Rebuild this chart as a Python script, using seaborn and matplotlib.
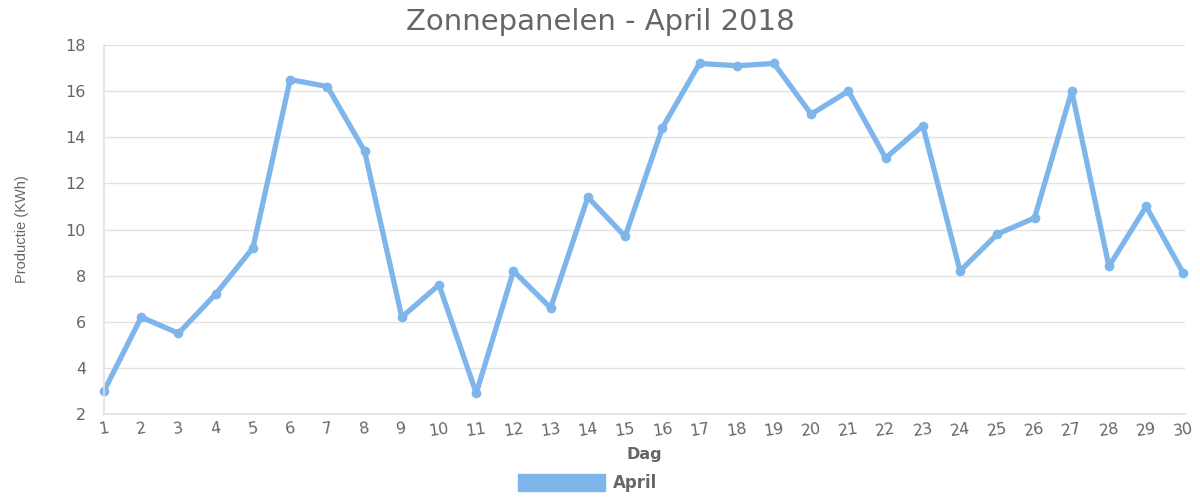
import matplotlib
matplotlib.use("Agg")
import matplotlib.pyplot as plt
from matplotlib.patches import Patch
import pandas as pd
import seaborn as sns

# opbrengst per dag, april 2018
dagen = list(range(1, 31))
productie = [3.0, 6.2, 5.5, 7.2, 9.2, 16.5, 16.2, 13.4, 6.2, 7.6,
             2.9, 8.2, 6.6, 11.4, 9.7, 14.4, 17.2, 17.1, 17.2, 15.0,
             16.0, 13.1, 14.5, 8.2, 9.8, 10.5, 16.0, 8.4, 11.0, 8.1]
y_ticks = [2, 4, 6, 8, 10, 12, 14, 16, 18]

df = pd.DataFrame({"Dag": dagen, "Productie": productie})

sns.set_style("whitegrid")
plt.rcParams["font.family"] = ["DejaVu Sans"]

blauw = "#7eb6ec"
grijs = "#666666"
lijn = "#e2e2e2"

fig = plt.figure(figsize=(12, 5), dpi=100)
ax = fig.add_axes([0.0867, 0.172, 0.901, 0.738])

sns.lineplot(data=df, x="Dag", y="Productie", ax=ax, color=blauw,
             linewidth=3.8, marker="o", markersize=7, markeredgewidth=0,
             clip_on=False)

ax.set_xlim(1, 30.05)
ax.set_ylim(2, 18)
ax.set_xticks(dagen)
ax.set_xticklabels([str(d) for d in dagen], rotation=8, fontsize=11.5, color=grijs)
ax.set_yticks(y_ticks)
ax.set_yticklabels([str(t) for t in y_ticks], fontsize=11.5, color=grijs)

ax.grid(axis="x", visible=False)
ax.grid(axis="y", color=lijn, linewidth=1)
for kant in ["top", "right"]:
    ax.spines[kant].set_visible(False)
for kant in ["left", "bottom"]:
    ax.spines[kant].set_color(lijn)
    ax.spines[kant].set_linewidth(1.2)
ax.tick_params(axis="y", length=7, color=lijn, pad=6)
ax.tick_params(axis="x", length=0, pad=5)

ax.set_xlabel("Dag", fontsize=11.5, color=grijs, fontweight="bold", labelpad=6)
ax.set_ylabel("Productie (KWh)", fontsize=10.5, color=grijs, labelpad=26,
              family="Liberation Sans")

fig.suptitle("Zonnepanelen - April 2018", x=0.5, y=0.985, fontsize=21, color=grijs)

fig.legend(handles=[Patch(facecolor=blauw, edgecolor=blauw, label="April")],
           loc="center", bbox_to_anchor=(0.49, 0.034), frameon=False,
           handlelength=5.2, handleheight=1.2, handletextpad=0.5,
           prop={"size": 12, "weight": "bold"}, labelcolor=grijs)

fig.savefig("out.png", dpi=100)
